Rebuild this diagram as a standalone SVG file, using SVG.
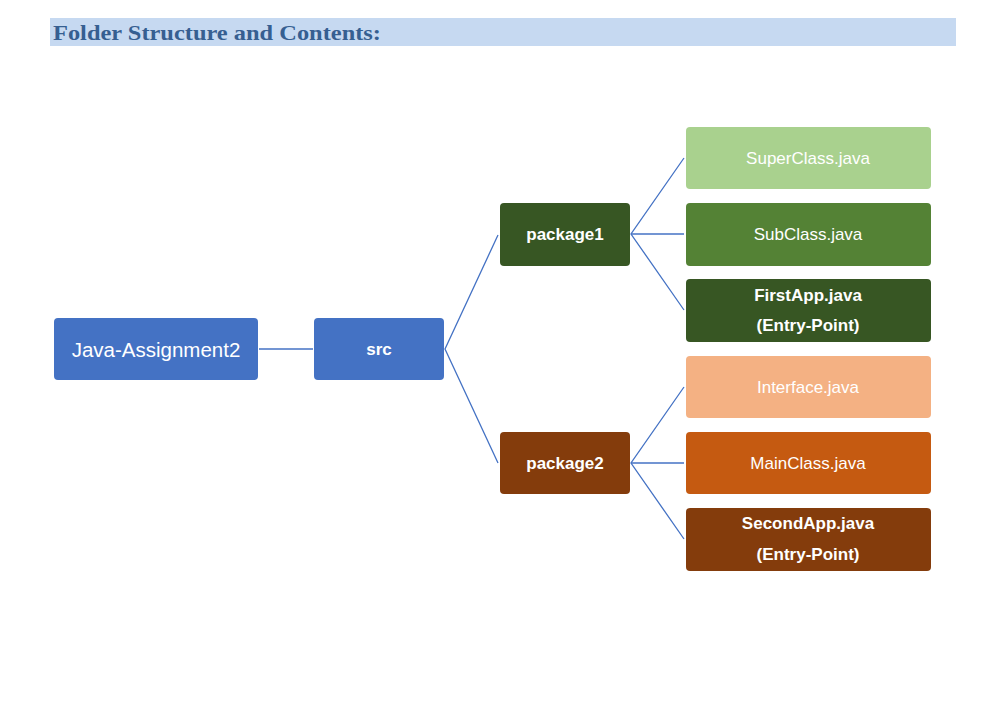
<svg xmlns="http://www.w3.org/2000/svg" width="998" height="707" viewBox="0 0 998 707">
<style>
.box{stroke:none}
.t{font-family:"Liberation Sans",Arial,sans-serif;fill:#ffffff;text-anchor:middle;dominant-baseline:central}
.b{font-weight:bold;font-size:17px}
.n{font-size:17px}
.c{stroke:#4472C4;stroke-width:1.3;fill:none}
</style>
<rect x="0" y="0" width="998" height="707" fill="#ffffff"/>
<rect x="50" y="18" width="906" height="28" fill="#C6D9F1"/>
<text x="53" y="40" font-family="'Liberation Serif','Times New Roman',serif" font-weight="bold" font-size="22" fill="#365F91" textLength="328" lengthAdjust="spacingAndGlyphs">Folder Structure and Contents:</text>
<g id="connectors">
<line class="c" x1="259" y1="349" x2="313" y2="349"/>
<polyline class="c" points="498,235 445,349 498,463"/>
<polyline class="c" points="684,158 631,234 684,310"/>
<line class="c" x1="631" y1="234" x2="684" y2="234"/>
<polyline class="c" points="684,387 631,463 684,539"/>
<line class="c" x1="631" y1="463" x2="684" y2="463"/>
</g>
<g id="root"><rect class="box" x="54" y="318" width="204" height="62" rx="4" fill="#4472C4"/><text class="t" x="156" y="349" font-size="20.5">Java-Assignment2</text></g>
<g id="src"><rect class="box" x="314" y="318" width="130" height="62" rx="4" fill="#4472C4"/><text class="t b" x="379" y="349">src</text></g>
<g id="package1"><rect class="box" x="500" y="203" width="130" height="63" rx="4" fill="#375623"/><text class="t b" x="565" y="234">package1</text></g>
<g id="package2"><rect class="box" x="500" y="432" width="130" height="62" rx="4" fill="#843C0C"/><text class="t b" x="565" y="463">package2</text></g>
<g id="superclass"><rect class="box" x="686" y="127" width="245" height="62" rx="4" fill="#A9D18E"/><text class="t n" x="808" y="158">SuperClass.java</text></g>
<g id="subclass"><rect class="box" x="686" y="203" width="245" height="63" rx="4" fill="#548235"/><text class="t n" x="808" y="234">SubClass.java</text></g>
<g id="firstapp"><rect class="box" x="686" y="279" width="245" height="63" rx="4" fill="#375623"/><text class="t b" x="808" y="295">FirstApp.java</text><text class="t b" x="808" y="325">(Entry-Point)</text></g>
<g id="interface"><rect class="box" x="686" y="356" width="245" height="62" rx="4" fill="#F4B183"/><text class="t n" x="808" y="387">Interface.java</text></g>
<g id="mainclass"><rect class="box" x="686" y="432" width="245" height="62" rx="4" fill="#C55A11"/><text class="t n" x="808" y="463">MainClass.java</text></g>
<g id="secondapp"><rect class="box" x="686" y="508" width="245" height="63" rx="4" fill="#843C0C"/><text class="t b" x="808" y="523">SecondApp.java</text><text class="t b" x="808" y="554">(Entry-Point)</text></g>
</svg>
